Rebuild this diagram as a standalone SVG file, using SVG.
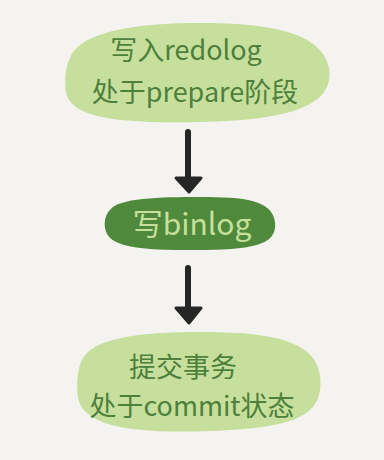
<svg xmlns="http://www.w3.org/2000/svg" width="384" height="460" viewBox="0 0 384 460">
  <style>
    .light { fill: #c6df9d; }
    .dark { fill: #4f8a3c; }
    .t { font-family: "Noto Sans CJK SC", "Noto Sans", sans-serif; font-size: 27px; fill: #4e7f3b; }
    .tl { font-family: "Noto Sans CJK SC", "Noto Sans", sans-serif; font-size: 30px; fill: #c6e09c; }
    .shaft { stroke: #262626; stroke-width: 6; stroke-linecap: round; fill: none; }
    .head { fill: #262626; stroke: #262626; stroke-width: 3; stroke-linejoin: round; }
  </style>
  <rect width="384" height="460" fill="#f4f3ef"/>

  <g id="redolog-prepare">
    <path class="light" d="M70 58 C78 36 120 24 190 23 C262 22 322 30 329 68 C334 102 300 120 200 122 C110 124 70 116 66 92 C64 78 66 66 70 58 Z"/>
    <text class="t" x="186" y="60" font-size="28" text-anchor="middle">写入redolog</text>
    <text class="t" x="195" y="102" text-anchor="middle">处于prepare阶段</text>
  </g>

  <g id="write-binlog">
    <path class="dark" d="M110 210 C118 198 160 197 200 197 C245 197 272 200 275 222 C278 246 250 250 195 250 C140 250 108 248 105 228 C104 220 106 214 110 210 Z"/>
    <text class="tl" x="192" y="235" text-anchor="middle">写binlog</text>
  </g>

  <g id="commit">
    <path class="light" d="M82 360 C92 338 140 332 200 332 C270 332 316 340 320 376 C324 414 300 428 210 431 C130 434 84 426 78 398 C76 382 78 368 82 360 Z"/>
    <text class="t" x="183" y="377" font-size="29" text-anchor="middle">提交事务</text>
    <text class="t" x="192" y="416" font-size="26" text-anchor="middle">处于commit状态</text>
  </g>

  <g id="connectors">
    <line class="shaft" x1="188" y1="132" x2="188" y2="180"/>
    <path class="head" d="M176 178 L201 178 L189 192 Z"/>
    <line class="shaft" x1="188" y1="268" x2="188" y2="310"/>
    <path class="head" d="M176 308 L201 308 L189 323 Z"/>
  </g>
</svg>
